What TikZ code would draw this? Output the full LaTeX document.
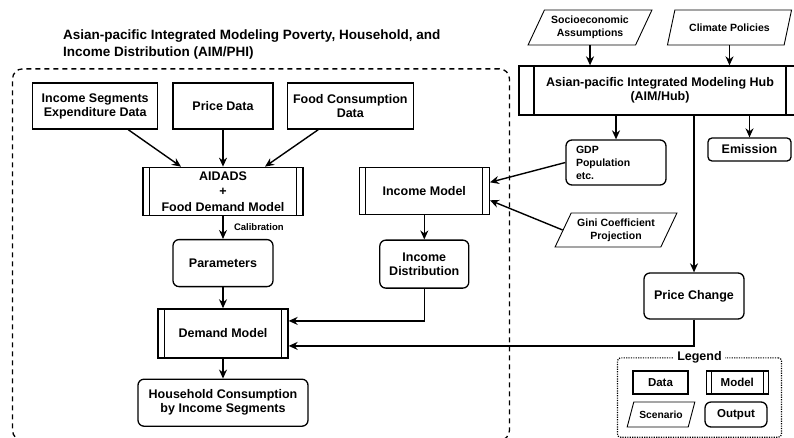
\documentclass[tikz,border=0pt]{standalone}
\usepackage{fontspec}
\setmainfont{Liberation Sans}
\usetikzlibrary{shapes.geometric, arrows.meta, positioning, fit, calc}

\begin{document}
\begin{tikzpicture}[
    x=1pt, y=-1pt,
    node distance=14pt,
    every node/.style={font=\fontsize{12.5}{14}\selectfont\bfseries},
    databox/.style={
        rectangle, draw, line width=1.3pt,
        minimum height=46pt, inner sep=2pt,
        align=center
    },
    outbox/.style={databox, rounded corners=6pt},
    modelbox/.style={
        databox,
        path picture={
            \draw[line width=1.3pt]
              ([xshift=#1]path picture bounding box.north west) -- ([xshift=#1]path picture bounding box.south west)
              ([xshift=-#1]path picture bounding box.north east) -- ([xshift=-#1]path picture bounding box.south east);
        }
    },
    modelbox/.default=6.5pt,
    scenbox/.style={
        trapezium, trapezium left angle=60, trapezium right angle=120,
        trapezium stretches=true, draw, line width=0.9pt,
        inner sep=1pt, align=center,
        font=\fontsize{10.5}{13}\selectfont\bfseries
    },
    smalltext/.style={font=\fontsize{10.5}{13}\selectfont\bfseries},
    frame/.style={
        draw, line width=1.3pt, dash pattern=on 5pt off 4pt,
        rounded corners=10pt, inner sep=0pt
    },
    legframe/.style={
        draw, line width=1.2pt, dash pattern=on 1.2pt off 1.2pt,
        rounded corners=3pt
    },
    arrow/.style={-{Stealth[length=9pt,width=8pt]}, line width=1.4pt}
]
\useasboundingbox (0,0) rectangle (794,437);

% AIM/PHI data
\node[databox, minimum width=100pt] (pd) at (223,106) {Price Data};
\node[databox, minimum width=125pt, left=14pt of pd] (isd) {Income Segments\\Expenditure Data};
\node[databox, minimum width=126pt, right=13pt of pd] (fcd) {Food Consumption\\Data};

% AIM/PHI models and outputs
\node[modelbox, minimum width=160pt, minimum height=48pt, below=37pt of pd,
      font=\fontsize{12.5}{15.5}\selectfont\bfseries] (aid) {AIDADS\\+\\Food Demand Model};
\node[modelbox, minimum width=130pt, minimum height=47pt, right=55pt of aid] (inm) {Income Model};
\node[outbox, minimum width=100pt, minimum height=47pt, below=23pt of aid] (par) {Parameters};
\node[outbox, minimum width=89pt, minimum height=48pt, below=24pt of inm] (ind) {Income\\Distribution};
\node[modelbox, minimum width=130pt, minimum height=49pt, below=21pt of par] (dem) {Demand Model};
\node[outbox, minimum width=170pt, minimum height=47pt, below=20pt of dem] (hhc) {Household Consumption\\by Income Segments};

\node[frame, fit=(isd)(fcd)(inm)(hhc), inner xsep=19.5pt, inner ysep=13.5pt] (phi) {};
\node[anchor=north west, inner sep=0pt, align=left,
      font=\fontsize{13.5}{17}\selectfont\bfseries] (title) at (63,29.5)
    {Asian-pacific Integrated Modeling Poverty, Household, and\\Income Distribution (AIM/PHI)};

% AIM/Hub
\node[modelbox=15pt, minimum width=282pt, minimum height=49pt] (hub) at (660,90.5)
    {Asian-pacific Integrated Modeling Hub\\(AIM/Hub)};
\node[scenbox, minimum width=124pt, minimum height=35pt] (soc) at (590,27.5) {Socioeconomic\\Assumptions};
\node[scenbox, minimum width=125pt, minimum height=35pt] (cli) at (729.5,27.5) {Climate Policies};
\node[outbox, minimum width=100pt, minimum height=45pt, text width=80pt, align=left, smalltext] (gdp) at (616,162.5)
    {GDP\\Population\\etc.};
\node[outbox, rounded corners=4pt, minimum width=83pt, minimum height=23pt] (emi) at (749.5,149.5) {Emission};
\node[scenbox, minimum width=122pt, minimum height=34pt] (gin) at (616,230) {Gini Coefficient\\Projection};
\node[outbox, minimum width=100pt, minimum height=46pt] (prc) at (694,296) {Price Change};

% Legend
\node[databox, minimum width=55pt, minimum height=23pt, font=\fontsize{11.5}{13}\selectfont\bfseries] (lgd) at (660.5,382.5) {Data};
\node[modelbox=5pt, minimum width=62pt, minimum height=23pt, font=\fontsize{11.5}{13}\selectfont\bfseries, right=17pt of lgd] (lgm) {Model};
\node[scenbox, minimum width=68pt, minimum height=25pt, font=\fontsize{10.3}{12}\selectfont\bfseries] (lgs) at (661,414.5) {Scenario};
\node[outbox, minimum width=62pt, minimum height=25pt, font=\fontsize{11.5}{13}\selectfont\bfseries] (lgo) at (736,414.5) {Output};
\node[legframe, fit=(lgd)(lgm)(lgs)(lgo), inner xsep=12.5pt, inner ysep=11pt, yshift=1.5pt] (leg) {};
\node[fill=white, inner sep=3pt] at (leg.north) {Legend};

% Connectors
\draw[arrow] ([xshift=33pt]isd.south) -- ([xshift=-42pt]aid.north);
\draw[arrow] (pd.south) -- (aid.north);
\draw[arrow] ([xshift=-32pt]fcd.south) -- ([xshift=42pt]aid.north);
\draw[arrow] (aid.south) -- (par.north)
    node[midway, right=7pt, font=\fontsize{9.5}{11}\selectfont\bfseries] {Calibration};
\draw[arrow] (par.south) -- (dem.north);
\draw[arrow] (dem.south) -- (hhc.north);
\draw[arrow] (inm.south) -- (ind.north);
\draw[arrow] (ind.south) |- ([yshift=12.5pt]dem.east);

\draw[arrow] (soc.south) -- (soc.south |- hub.north);
\draw[arrow] (cli.south) -- (cli.south |- hub.north);
\draw[arrow] (hub.south -| gdp.north) -- (gdp.north);
\draw[arrow] (hub.south -| emi.north) -- (emi.north);
\draw[arrow] (hub.south -| prc.north) -- (prc.north);
\draw[arrow] (gdp.west) -- ([yshift=9pt]inm.east);
\draw[arrow] (gin.west) -- ([yshift=-9pt]inm.east);
\draw[arrow] (prc.south) |- ([yshift=-12.5pt]dem.east);

\end{tikzpicture}
\end{document}
